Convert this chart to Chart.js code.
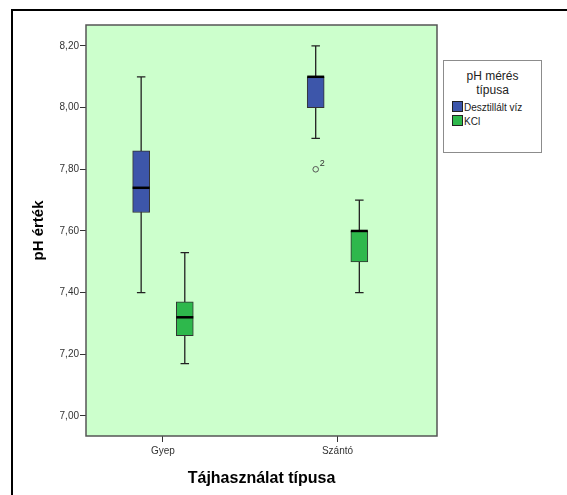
<!DOCTYPE html>
<html>
<head>
<meta charset="utf-8">
<script src="https://cdn.jsdelivr.net/npm/chart.js@4/dist/chart.umd.min.js"></script>
<style>
html, body { margin: 0; padding: 0; background: #fff; overflow: hidden; }
#wrap { position: relative; width: 567px; height: 495px; overflow: hidden; }
#frame { position: absolute; left: 11px; top: 9px; width: 620px; height: 620px; border: 2px solid #000; }
#myChart { position: absolute; left: 0; top: 0; }
#legend { position: absolute; left: 443px; top: 60px; width: 97px; height: 91px; border: 1px solid #8c8c8c; background: #fff;
  font-family: "Liberation Sans", Arial, sans-serif; color: #222; }
#legend .title { text-align: center; font-size: 12px; line-height: 14px; margin-top: 8px; margin-bottom: 4px; }
#legend .item { font-size: 10px; line-height: 14px; margin-left: 8px; white-space: nowrap; }
#legend .sw { display: inline-block; width: 9px; height: 9px; border: 1px solid #222; vertical-align: -1px; margin-right: 1px; }
</style>
</head>
<body>
<div id="wrap">
  <div id="frame"></div>
  <canvas id="myChart" width="567" height="495"></canvas>
  <div id="legend"></div>
</div>
<script>
var categories = ["Gyep", "Szántó"];
var seriesNames = ["Desztillált víz", "KCl"];
var seriesColors = ["rgb(61, 86, 170)", "rgb(46, 184, 76)"];

// box plot values per series, one entry per category
var desztMin = [7.40, 7.90];
var desztQ1 = [7.66, 8.00];
var desztMedian = [7.74, 8.10];
var desztQ3 = [7.86, 8.10];
var desztMax = [8.10, 8.20];

var kclMin = [7.17, 7.40];
var kclQ1 = [7.26, 7.50];
var kclMedian = [7.32, 7.60];
var kclQ3 = [7.37, 7.60];
var kclMax = [7.53, 7.70];

// outliers: [series, category index, value, case label]
var outliers = [[0, 1, 7.80, "2"]];

var yTicks = [7.00, 7.20, 7.40, 7.60, 7.80, 8.00, 8.20];

var stats = [
  { min: desztMin, q1: desztQ1, med: desztMedian, q3: desztQ3, max: desztMax },
  { min: kclMin, q1: kclQ1, med: kclMedian, q3: kclQ3, max: kclMax }
];
var groupOffset = [-0.125, 0.125];

var fontFam = "'Liberation Sans', Arial, sans-serif";

// legend from the series names
var leg = document.getElementById("legend");
var html = '<div class="title">pH mérés<br>típusa</div>';
seriesNames.forEach(function (n, i) {
  html += '<div class="item"><span class="sw" style="background:' + seriesColors[i] + '"></span>' + n + '</div>';
});
leg.innerHTML = html;

var plotBg = {
  id: "plotBg",
  beforeDatasetsDraw: function (chart) {
    var a = chart.chartArea, ctx = chart.ctx;
    ctx.save();
    ctx.fillStyle = "#ccffcc";
    ctx.fillRect(a.left, a.top, a.right - a.left, a.bottom - a.top);
    ctx.strokeStyle = "#555";
    ctx.lineWidth = 1.5;
    ctx.strokeRect(a.left, a.top, a.right - a.left, a.bottom - a.top);
    // whiskers behind the boxes
    var y = chart.scales.y;
    ctx.strokeStyle = "#222";
    ctx.lineWidth = 1.3;
    chart.data.datasets.forEach(function (ds, d) {
      chart.getDatasetMeta(d).data.forEach(function (bar, i) {
        var s = stats[d];
        var cap = bar.width / 4;
        var yMin = y.getPixelForValue(s.min[i]), yMax = y.getPixelForValue(s.max[i]);
        ctx.beginPath();
        ctx.moveTo(bar.x, yMax); ctx.lineTo(bar.x, yMin);
        ctx.moveTo(bar.x - cap, yMax); ctx.lineTo(bar.x + cap, yMax);
        ctx.moveTo(bar.x - cap, yMin); ctx.lineTo(bar.x + cap, yMin);
        ctx.stroke();
      });
    });
    ctx.restore();
  },
  afterDatasetsDraw: function (chart) {
    var ctx = chart.ctx, y = chart.scales.y;
    ctx.save();
    ctx.strokeStyle = "#000";
    ctx.lineWidth = 2.5;
    chart.data.datasets.forEach(function (ds, d) {
      chart.getDatasetMeta(d).data.forEach(function (bar, i) {
        var ym = y.getPixelForValue(stats[d].med[i]);
        ctx.beginPath();
        ctx.moveTo(bar.x - bar.width / 2, ym);
        ctx.lineTo(bar.x + bar.width / 2, ym);
        ctx.stroke();
      });
    });
    outliers.forEach(function (o) {
      var bar = chart.getDatasetMeta(o[0]).data[o[1]];
      var yo = y.getPixelForValue(o[2]);
      ctx.strokeStyle = "#555";
      ctx.lineWidth = 1;
      ctx.beginPath();
      ctx.arc(bar.x, yo, 2.8, 0, Math.PI * 2);
      ctx.stroke();
      ctx.fillStyle = "#333";
      ctx.font = "9px " + fontFam;
      ctx.textAlign = "left";
      ctx.textBaseline = "alphabetic";
      ctx.fillText(o[3], bar.x + 4, yo - 3);
    });
    ctx.restore();
  }
};

new Chart("myChart", {
  type: "bar",
  data: {
    datasets: seriesNames.map(function (name, d) {
      return {
        label: name,
        backgroundColor: seriesColors[d],
        borderColor: "#333",
        borderWidth: 1,
        borderSkipped: false,
        barThickness: 17,
        grouped: false,
        data: categories.map(function (c, i) {
          return { x: i + 1 + groupOffset[d], y: [stats[d].q1[i], stats[d].q3[i]] };
        })
      };
    })
  },
  options: {
    responsive: false,
    animation: false,
    events: [],
    layout: { padding: { top: 25, right: 130, left: 0, bottom: 0 } },
    plugins: { legend: { display: false }, tooltip: { enabled: false } },
    scales: {
      x: {
        type: "linear",
        offset: false,
        min: 0.559,
        max: 2.57,
        afterFit: function (s) { s.height = 59; },
        afterBuildTicks: function (s) { s.ticks = categories.map(function (c, i) { return { value: i + 1 }; }); },
        ticks: {
          autoSkip: false,
          maxRotation: 0,
          padding: 3,
          color: "#333",
          font: { family: fontFam, size: 10 },
          callback: function (v) { return categories[Math.round(v) - 1]; }
        },
        grid: { offset: false, drawOnChartArea: false, drawTicks: true, tickLength: 6, color: "#333" },
        border: { display: false },
        title: {
          display: true,
          text: "Tájhasználat típusa",
          color: "#000",
          font: { family: fontFam, size: 16, weight: "bold" },
          padding: { top: 0, bottom: 7 }
        }
      },
      y: {
        min: 6.935,
        max: 8.268,
        afterFit: function (s) { s.width = 86; },
        afterBuildTicks: function (s) { s.ticks = yTicks.map(function (v) { return { value: v }; }); },
        ticks: {
          padding: 1,
          color: "#333",
          font: { family: fontFam, size: 10 },
          callback: function (v) { return v.toFixed(2).replace(".", ","); }
        },
        grid: { drawOnChartArea: false, drawTicks: true, tickLength: 6, color: "#333" },
        border: { display: false },
        title: {
          display: true,
          text: "pH érték",
          color: "#000",
          font: { family: fontFam, size: 15, weight: "bold" },
          padding: { top: 30, bottom: 0 }
        }
      }
    }
  },
  plugins: [plotBg]
});
</script>
</body>
</html>
